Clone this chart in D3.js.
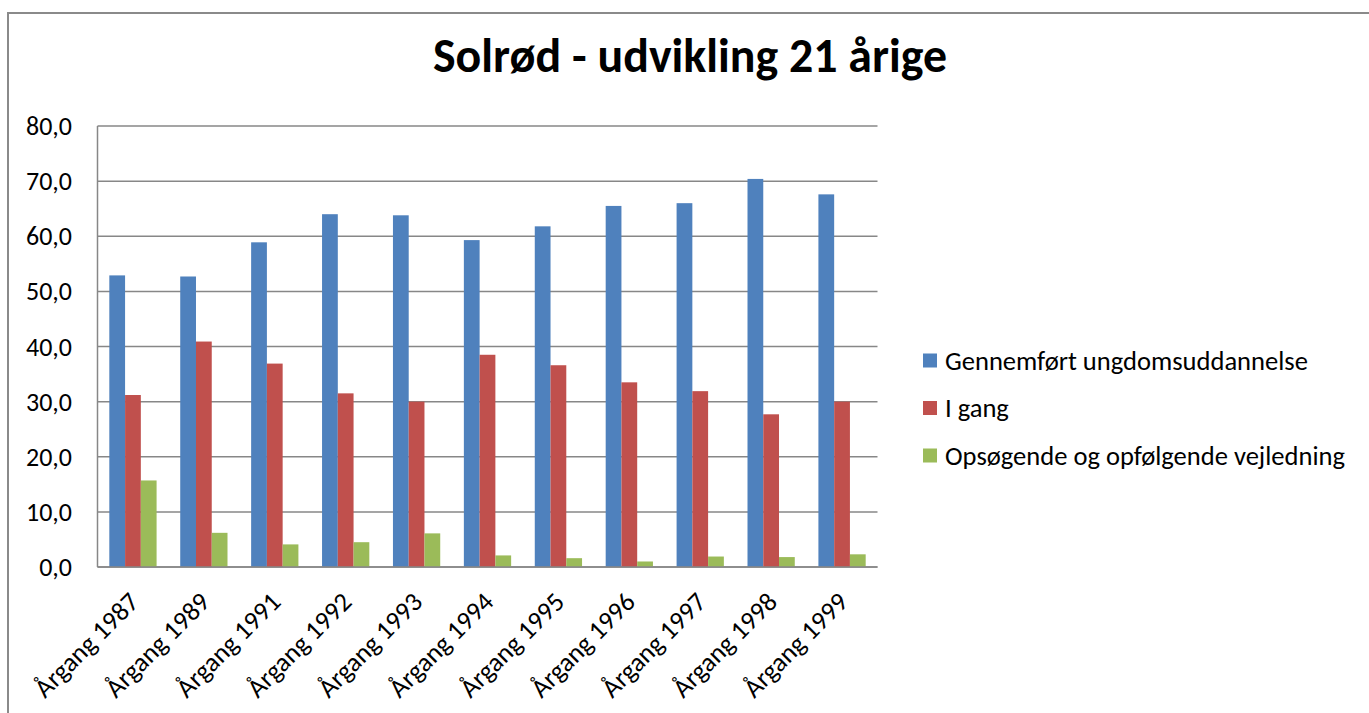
<!DOCTYPE html>
<html><head><meta charset="utf-8">
<script src="https://cdn.jsdelivr.net/npm/d3@7"></script>
<style>
html,body{margin:0;padding:0;background:#fff;}
svg{display:block;}
text{font-family:Carlito, Lato, "Open Sans", sans-serif; fill:#000;}
</style></head>
<body>
<svg id="chart" width="1369" height="713"></svg>
<script>
const categories = ["Årgang 1987","Årgang 1989","Årgang 1991","Årgang 1992","Årgang 1993","Årgang 1994","Årgang 1995","Årgang 1996","Årgang 1997","Årgang 1998","Årgang 1999"];
const seriesNames = ["Gennemført ungdomsuddannelse","I gang","Opsøgende og opfølgende vejledning"];
const gennemfoert = [52.9,52.7,58.9,64.0,63.8,59.3,61.8,65.5,66.0,70.4,67.6];
const iGang = [31.2,40.9,36.9,31.5,30.0,38.5,36.6,33.5,31.9,27.7,30.0];
const opsoegende = [15.7,6.2,4.1,4.5,6.1,2.1,1.6,1.0,1.9,1.8,2.3];
const yTicks = [0,10,20,30,40,50,60,70,80];
const titleText = "Solrød - udvikling 21 årige";
const colors = ["#4F81BD","#C0504D","#9BBB59"];

(function(){
const seriesValues = [gennemfoert, iGang, opsoegende];
const svg = d3.select("#chart");

function fitFont(sel, target){
  sel.style("font-size","100px");
  const w = sel.node().getComputedTextLength();
  const fs = 100*target/w;
  sel.style("font-size", fs+"px");
  return fs;
}

svg.append("path").attr("d","M8,713 V13 H1369").attr("fill","none")
  .attr("stroke","#8a8a8a").attr("stroke-width",2);

const pLeft=97.5, pRight=877.5, pTop=126, pBottom=567;
const y = d3.scaleLinear().domain([0,80]).range([pBottom, pTop]);
const x0 = d3.scaleBand().domain(categories).range([pLeft,pRight]).padding(0);
const step = x0.step();
const gap = step*0.75/4.5;
const x1 = d3.scaleBand().domain(seriesNames).range([gap, step-gap]).padding(0);

svg.append("g").selectAll("line").data(yTicks).join("line")
  .attr("x1",pLeft).attr("x2",pRight)
  .attr("y1",d=>y(d)).attr("y2",d=>y(d))
  .attr("stroke","#878787").attr("stroke-width",1.5);
svg.append("line").attr("x1",pLeft).attr("x2",pLeft).attr("y1",y(80)).attr("y2",y(0))
  .attr("stroke","#878787").attr("stroke-width",1.5);

const fmt = d => d3.format(".1f")(d).replace(".",",");
const probe = svg.append("text").text("80,0");
const yfs = fitFont(probe, 46);
probe.remove();
svg.append("g").selectAll("text").data(yTicks).join("text")
  .attr("x",72).attr("y",d=>y(d)).attr("dy","0.35em")
  .attr("text-anchor","end").style("font-size",yfs+"px").text(fmt);

const groups = svg.append("g").selectAll("g").data(categories).join("g")
  .attr("transform",d=>`translate(${x0(d)},0)`);
groups.selectAll("rect").data((c,i)=>seriesNames.map((s,j)=>({s, v:seriesValues[j][i], j})))
  .join("rect")
  .attr("x",d=>x1(d.s)).attr("width",x1.bandwidth())
  .attr("y",d=>y(d.v)).attr("height",d=>y(0)-y(d.v))
  .attr("fill",d=>colors[d.j]);

svg.append("line").attr("x1",pLeft).attr("x2",pRight).attr("y1",y(0)).attr("y2",y(0))
  .attr("stroke","#878787").attr("stroke-width",1.5);

const probe2 = svg.append("text").text("Årgang 1987");
const xfs = fitFont(probe2, 135);
probe2.remove();
svg.append("g").selectAll("text").data(categories).join("text")
  .attr("transform",d=>`translate(${x0(d)+step/2-6},590) rotate(-45)`)
  .attr("text-anchor","end").attr("dy","0.72em")
  .style("font-size",xfs+"px").text(d=>d);

const t = svg.append("text").attr("x",690).attr("y",72).attr("text-anchor","middle")
  .style("font-weight","bold").text(titleText);
fitFont(t, 514);

const lg = svg.append("g");
const probe3 = svg.append("text").text(seriesNames[0]);
const lfs = fitFont(probe3, 363);
probe3.remove();
const ly = [360.5, 408, 455.5];
seriesNames.forEach((s,i)=>{
  lg.append("rect").attr("x",923).attr("y",ly[i]-7).attr("width",14).attr("height",14).attr("fill",colors[i]);
  lg.append("text").attr("x",945).attr("y",ly[i]).attr("dy","0.35em").style("font-size",lfs+"px").text(s);
});
})();
</script>
</body></html>
